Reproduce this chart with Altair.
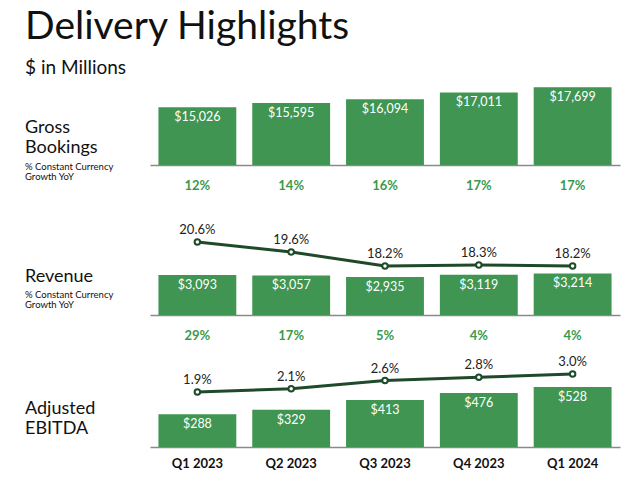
import altair as alt
import pandas as pd

quarters = ["Q1 2023", "Q2 2023", "Q3 2023", "Q4 2023", "Q1 2024"]
gross_bookings = [15026, 15595, 16094, 17011, 17699]
gross_growth = [12, 14, 16, 17, 17]
revenue = [3093, 3057, 2935, 3119, 3214]
revenue_growth = [29, 17, 5, 4, 4]
take_rate = [20.6, 19.6, 18.2, 18.3, 18.2]
ebitda = [288, 329, 413, 476, 528]
ebitda_margin = [1.9, 2.1, 2.6, 2.8, 3.0]

FONT = "Lato"
BAR = "#3f9551"
GREEN_TXT = "#3a9a4a"
LINE = "#1e4a2a"
W = 470
GB_MIN = 7313

gross_df = pd.DataFrame({"q": quarters, "v": gross_bookings, "g": gross_growth})
rev_df = pd.DataFrame({"q": quarters, "v": revenue, "g": revenue_growth, "p": take_rate})
ebitda_df = pd.DataFrame({"q": quarters, "v": ebitda, "p": ebitda_margin})

xscale = alt.Scale(domain=quarters, paddingInner=0.17, paddingOuter=0.09)


def xenc(bottom=False):
    if bottom:
        ax = alt.Axis(title=None, ticks=False, tickSize=0, domainColor="#8a8a8a",
                      domainWidth=1.5, labelFont=FONT, labelFontSize=13,
                      labelFontWeight="bold", labelColor="#111", labelPadding=10,
                      labelAngle=0)
    else:
        ax = alt.Axis(title=None, labels=False, ticks=False, tickSize=0,
                      domainColor="#8a8a8a", domainWidth=1.5)
    return alt.X("q:N", scale=xscale, axis=ax, sort=quarters)


def side_text(txt, x, y, size, color="#111", weight="normal", baseline="alphabetic"):
    return alt.Chart(alt.Data(values=[{}])).mark_text(
        text=txt, align="left", baseline=baseline, font=FONT,
        fontSize=size, color=color, fontWeight=weight
    ).encode(x=alt.value(x), y=alt.value(y))


def bar_layers(df, dom, bottom=False, zero=True):
    base = alt.Chart(df)
    ysc = alt.Scale(domain=dom, zero=zero, nice=False)
    enc = dict(
        x=xenc(bottom),
        y=alt.Y("v:Q", scale=ysc, axis=None),
    )
    if not zero:
        enc["y2"] = alt.datum(dom[0])
    bars = base.mark_bar(color=BAR).encode(**enc)
    labels = base.mark_text(color="white", font=FONT, fontSize=12.5, baseline="middle", dy=10).encode(
        x=alt.X("q:N", scale=xscale, sort=quarters),
        y=alt.Y("v:Q", scale=ysc, axis=None),
        text=alt.Text("v:Q", format="$,d"),
    )
    return bars, labels


def growth_layer(df, h):
    return alt.Chart(df).transform_calculate(
        t="datum.g + '%'"
    ).mark_text(color=GREEN_TXT, font=FONT, fontSize=13, fontWeight="bold", baseline="middle").encode(
        x=alt.X("q:N", scale=xscale, sort=quarters),
        y=alt.value(h + 21),
        text="t:N",
    )


def line_layers(df, dom):
    base = alt.Chart(df).transform_calculate(t="format(datum.p, '.1f') + '%'")
    y = alt.Y("p:Q", scale=alt.Scale(domain=dom, zero=False, nice=False), axis=None)
    x = alt.X("q:N", scale=xscale, sort=quarters)
    line = base.mark_line(color=LINE, strokeWidth=3).encode(x=x, y=y)
    pts = base.mark_point(filled=True, fill="white", stroke=LINE, strokeWidth=2, size=30, opacity=1).encode(x=x, y=y)
    lab = base.mark_text(color="#222", font=FONT, fontSize=13, baseline="middle", dy=-12).encode(x=x, y=y, text="t:N")
    return alt.layer(line, pts, lab)


LX = -125

# Gross bookings panel
gb_bars, gb_lab = bar_layers(gross_df, [GB_MIN, 18677], zero=False)
gross = alt.layer(
    gb_bars, gb_lab, growth_layer(gross_df, 85),
    side_text("Delivery Highlights", LX, -72, 39, baseline="top"),
    side_text("$ in Millions", LX, -6, 19),
    side_text("Gross", LX, 53, 18),
    side_text("Bookings", LX, 73, 18),
    side_text("% Constant Currency", LX, 90, 9.5),
    side_text("Growth YoY", LX, 99.5, 9.5),
).properties(width=W, height=85)

# Revenue panel
rv_bars, rv_lab = bar_layers(rev_df, [0, 7734])
rev = alt.layer(
    alt.layer(rv_bars, rv_lab, growth_layer(rev_df, 100),
              side_text("Revenue", LX, 66.5, 18),
              side_text("% Constant Currency", LX, 82.5, 9.5),
              side_text("Growth YoY", LX, 93, 9.5)),
    line_layers(rev_df, [13.3, 23.3]),
).resolve_scale(y="independent").properties(width=W, height=100)

# EBITDA panel
eb_bars, eb_lab = bar_layers(ebitda_df, [0, 722], bottom=True)
ebit = alt.layer(
    alt.layer(eb_bars, eb_lab,
              side_text("Adjusted", LX, 48.5, 18),
              side_text("EBITDA", LX, 69, 18)),
    line_layers(ebitda_df, [-1.454, 3.546]),
).resolve_scale(y="independent").properties(width=W, height=82)

chart = alt.vconcat(gross, rev, ebit, spacing=50, bounds="flush").properties(
    padding={"left": 17, "top": 0, "right": 5, "bottom": 5},
    background="white",
).configure_view(stroke=None)

chart.save("out.html", embed_options={"renderer": "svg", "actions": False})
